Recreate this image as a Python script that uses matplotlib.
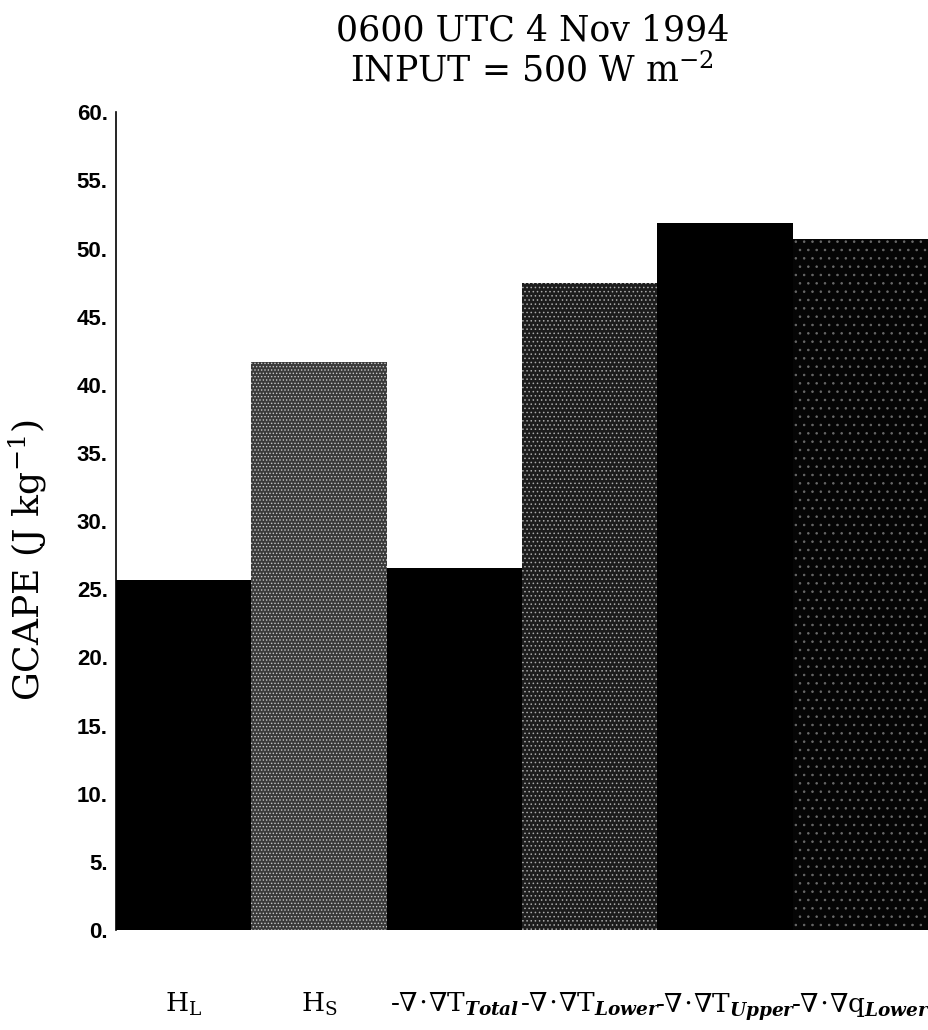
import matplotlib
matplotlib.use("Agg")
import matplotlib.pyplot as plt
from matplotlib.ticker import FixedLocator, FuncFormatter

plt.rcParams['mathtext.fontset'] = 'dejavuserif'
plt.rcParams['hatch.linewidth'] = 0.6

# ---- Data ----
categories = [r'H$_\mathrm{L}$', r'H$_\mathrm{S}$',
              r'-$\nabla\!\cdot\!\nabla$T$_{\mathbfit{Total}}$',
              r'-$\nabla\!\cdot\!\nabla$T$_{\mathbfit{Lower}}$',
              r'-$\nabla\!\cdot\!\nabla$T$_{\mathbfit{Upper}}$',
              r'-$\nabla\!\cdot\!\nabla$q$_{\mathbfit{Lower}}$']
gcape = [25.7, 41.7, 26.6, 47.5, 51.9, 50.7]
yticks = [0, 5, 10, 15, 20, 25, 30, 35, 40, 45, 50, 55, 60]

# fill styles per bar (face, hatch, hatch colour)
faces = ['black', '#3a3a3a', 'black', '#1c1c1c', 'black', '#050505']
hatches = [None, '.....', None, '....', None, '..']
hatch_cols = [None, '#c8c8c8', None, '#aaaaaa', None, '#6a6a6a']

fig = plt.figure(figsize=(9.29, 10.30), dpi=100)
ax = fig.add_axes([0.125, 0.097, 0.874, 0.794])

x = list(range(len(categories)))
bars = ax.bar(x, gcape, width=1.0, color=faces, edgecolor='none', linewidth=0)
for b, h, hc in zip(bars, hatches, hatch_cols):
    if h:
        b.set_hatch(h)
        b.set_edgecolor(hc)
        b.set_linewidth(0)

ax.set_xlim(-0.5, 5.5)
ax.set_ylim(0, 60)
for s in ['top', 'right', 'bottom']:
    ax.spines[s].set_visible(False)
ax.spines['left'].set_linewidth(1.2)

ax.yaxis.set_major_locator(FixedLocator(yticks))
ax.yaxis.set_major_formatter(FuncFormatter(lambda v, _: f"{v:.0f}."))
ax.tick_params(axis='y', length=0, pad=6, labelsize=16)
for t in ax.get_yticklabels():
    t.set_fontfamily('Liberation Sans')
    t.set_fontweight('bold')

ax.set_xticks(x)
ax.set_xticklabels(categories, fontsize=19, fontfamily='DejaVu Serif')
ax.tick_params(axis='x', length=0, pad=44)

ax.set_ylabel(r'GCAPE (J kg$^{-1}$)', fontsize=26, fontfamily='DejaVu Serif')
ax.yaxis.set_label_coords(-0.083, 0.452)

fig.text(0.573, 0.970, '0600 UTC 4 Nov 1994', ha='center', va='center',
         fontsize=25, fontfamily='DejaVu Serif')
fig.text(0.573, 0.931, r'INPUT = 500 W m$^{-2}$', ha='center', va='center',
         fontsize=25, fontfamily='DejaVu Serif')

fig.savefig('out.png', dpi=100)
